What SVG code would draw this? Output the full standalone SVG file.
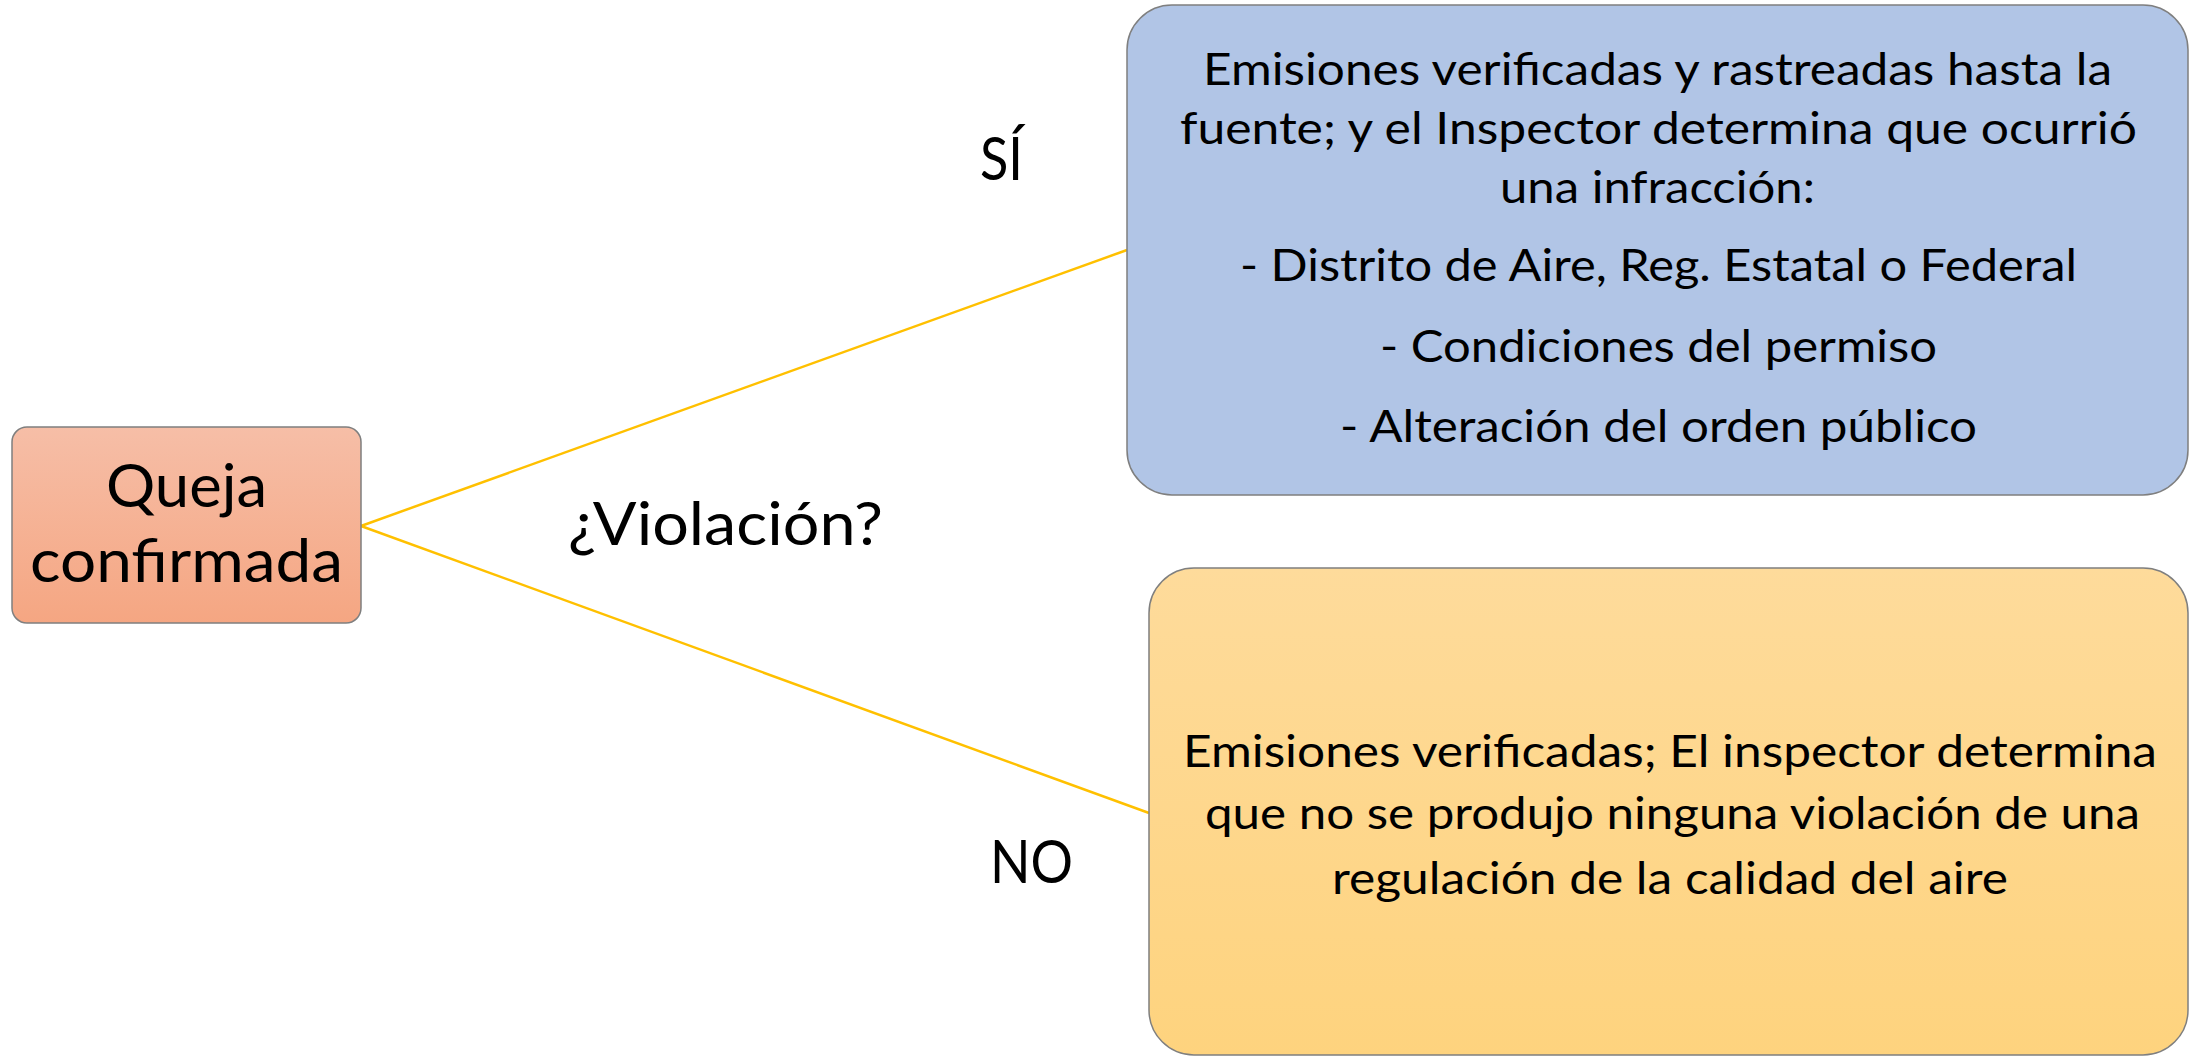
<svg xmlns="http://www.w3.org/2000/svg" width="2196" height="1056" viewBox="0 0 2196 1056">
<defs>
<linearGradient id="gOrange" x1="0" y1="0" x2="0" y2="1">
<stop offset="0" stop-color="#F6BEA7"/>
<stop offset="1" stop-color="#F5A682"/>
</linearGradient>
<linearGradient id="gYellow" x1="0" y1="0" x2="0" y2="1">
<stop offset="0" stop-color="#FEDB9B"/>
<stop offset="1" stop-color="#FED37E"/>
</linearGradient>
<style>
.box{stroke:#7F7F7F;stroke-width:1.5}
.t{font-family:Lato,"Open Sans","Liberation Sans",sans-serif;fill:#000;text-anchor:middle}
.body{font-size:45px}
.big{font-size:60px}
.conn{stroke:#FFC000;stroke-width:2.5;fill:none}
</style>
</defs>
<rect width="2196" height="1056" fill="#FFFFFF"/>
<g id="connectors">
<line class="conn" x1="361" y1="526" x2="1127" y2="250"/>
<line class="conn" x1="361" y1="526" x2="1149" y2="813"/>
</g>
<g id="node-queja">
<rect class="box" x="12" y="427" width="349" height="196" rx="15" ry="15" fill="url(#gOrange)"/>
<text class="t big" x="186.5" y="507" textLength="161" lengthAdjust="spacingAndGlyphs">Queja</text>
<text class="t big" x="186.5" y="582" textLength="313" lengthAdjust="spacingAndGlyphs">confirmada</text>
</g>
<g id="node-si">
<rect class="box" x="1127" y="5" width="1061" height="490" rx="45" ry="45" fill="#B1C5E6"/>
<text class="t body" x="1657.5" y="85" textLength="909" lengthAdjust="spacingAndGlyphs">Emisiones verificadas y rastreadas hasta la</text>
<text class="t body" x="1658.5" y="144" textLength="957" lengthAdjust="spacingAndGlyphs">fuente; y el Inspector determina que ocurrió</text>
<text class="t body" x="1657.5" y="203" textLength="315" lengthAdjust="spacingAndGlyphs">una infracción:</text>
<text class="t body" x="1658.5" y="281" textLength="837" lengthAdjust="spacingAndGlyphs">- Distrito de Aire, Reg. Estatal o Federal</text>
<text class="t body" x="1658.5" y="362" textLength="557" lengthAdjust="spacingAndGlyphs">- Condiciones del permiso</text>
<text class="t body" x="1658.5" y="442" textLength="637" lengthAdjust="spacingAndGlyphs">- Alteración del orden público</text>
</g>
<g id="node-no">
<rect class="box" x="1149" y="568" width="1039" height="487" rx="45" ry="45" fill="url(#gYellow)"/>
<text class="t body" x="1670" y="767" textLength="974" lengthAdjust="spacingAndGlyphs">Emisiones verificadas; El inspector determina</text>
<text class="t body" x="1672.5" y="829" textLength="935" lengthAdjust="spacingAndGlyphs">que no se produjo ninguna violación de una</text>
<text class="t body" x="1670" y="894" textLength="676" lengthAdjust="spacingAndGlyphs">regulación de la calidad del aire</text>
</g>
<g id="labels">
<text class="t big" x="1001.5" y="180" textLength="43" lengthAdjust="spacingAndGlyphs">SÍ</text>
<text class="t big" x="725.5" y="545" textLength="315" lengthAdjust="spacingAndGlyphs">¿Violación?</text>
<text class="t big" x="1031.5" y="883" textLength="83" lengthAdjust="spacingAndGlyphs">NO</text>
</g>
</svg>
